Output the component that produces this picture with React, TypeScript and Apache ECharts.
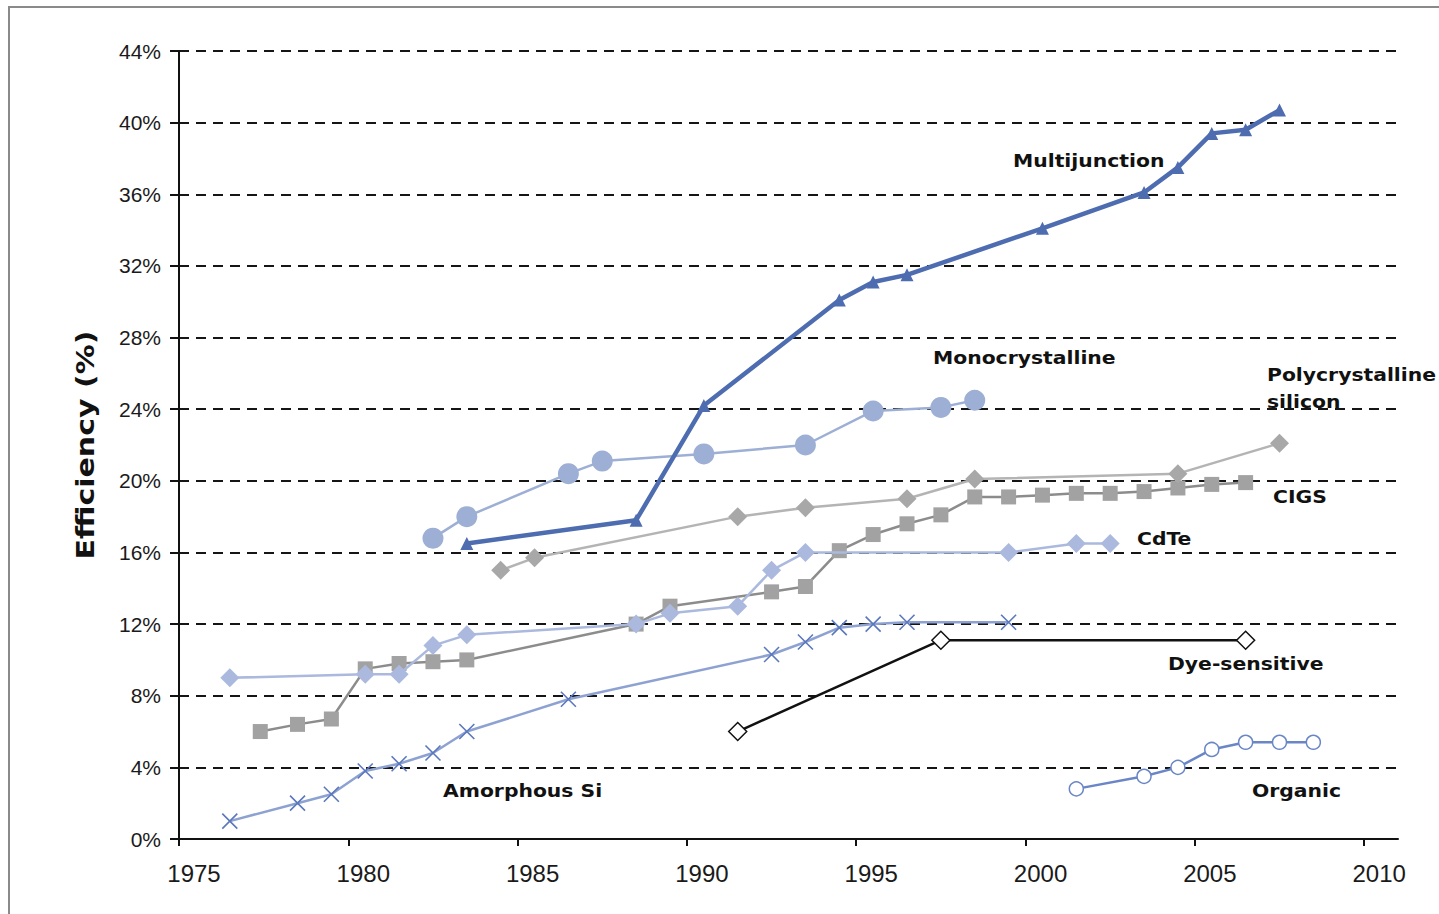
import React, { useEffect, useRef } from "react";
import * as echarts from "echarts";

const xTicks = [1975, 1980, 1985, 1990, 1995, 2000, 2005, 2010];
const yTicks = [0, 4, 8, 12, 16, 20, 24, 28, 32, 36, 40, 44];

const multiYears = [1983.5, 1988.5, 1990.5, 1994.5, 1995.5, 1996.5, 2000.5, 2003.5, 2004.5, 2005.5, 2006.5, 2007.5];
const multiVals = [16.5, 17.8, 24.2, 30.1, 31.1, 31.5, 34.1, 36.1, 37.5, 39.4, 39.6, 40.7];

const monoYears = [1982.5, 1983.5, 1986.5, 1987.5, 1990.5, 1993.5, 1995.5, 1997.5, 1998.5];
const monoVals = [16.8, 18.0, 20.4, 21.1, 21.5, 22.0, 23.9, 24.1, 24.5];

const polyYears = [1984.5, 1985.5, 1991.5, 1993.5, 1996.5, 1998.5, 2004.5, 2007.5];
const polyVals = [15.0, 15.7, 18.0, 18.5, 19.0, 20.1, 20.4, 22.1];

const cigsYears = [1977.4, 1978.5, 1979.5, 1980.5, 1981.5, 1982.5, 1983.5, 1988.5, 1989.5, 1992.5, 1993.5, 1994.5, 1995.5, 1996.5, 1997.5, 1998.5, 1999.5, 2000.5, 2001.5, 2002.5, 2003.5, 2004.5, 2005.5, 2006.5];
const cigsVals = [6.0, 6.4, 6.7, 9.5, 9.8, 9.9, 10.0, 12.0, 13.0, 13.8, 14.1, 16.1, 17.0, 17.6, 18.1, 19.1, 19.1, 19.2, 19.3, 19.3, 19.4, 19.6, 19.8, 19.9];

const cdteYears = [1976.5, 1980.5, 1981.5, 1982.5, 1983.5, 1988.5, 1989.5, 1991.5, 1992.5, 1993.5, 1999.5, 2001.5, 2002.5];
const cdteVals = [9.0, 9.2, 9.2, 10.8, 11.4, 12.0, 12.6, 13.0, 15.0, 16.0, 16.0, 16.5, 16.5];

const amorYears = [1976.5, 1978.5, 1979.5, 1980.5, 1981.5, 1982.5, 1983.5, 1986.5, 1992.5, 1993.5, 1994.5, 1995.5, 1996.5, 1999.5];
const amorVals = [1.0, 2.0, 2.5, 3.8, 4.2, 4.8, 6.0, 7.8, 10.3, 11.0, 11.8, 12.0, 12.1, 12.1];

const dyeYears = [1991.5, 1997.5, 2006.5];
const dyeVals = [6.0, 11.1, 11.1];

const orgYears = [2001.5, 2003.5, 2004.5, 2005.5, 2006.5, 2007.5, 2008.5];
const orgVals = [2.8, 3.5, 4.0, 5.0, 5.4, 5.4, 5.4];

const seriesNames = ["Multijunction", "Monocrystalline", "Polycrystalline\nsilicon", "CIGS", "CdTe", "Dye-sensitive", "Organic", "Amorphous Si"];
const axisTitle = "Efficiency (%)";

const pair = (xs: number[], ys: number[]) => xs.map((x, i) => [x, ys[i]]);

const LABEL_FONT = "'DejaVu Sans', sans-serif";
const TICK_FONT = "'Liberation Sans', Arial, sans-serif";

export default function App() {
  const ref = useRef<HTMLDivElement>(null);
  useEffect(() => {
    if (!ref.current) return;
    const chart = echarts.init(ref.current, undefined, { renderer: "svg" });
    const lbl = (text: string, x: number, y: number) => ({
      type: "text",
      x,
      y,
      scaleX: 1.13,
      style: {
        text,
        font: `bold 18px ${LABEL_FONT}`,
        fill: "#111111",
        align: "left",
        verticalAlign: "middle",
      },
      z: 100,
    });
    const xSymbol = "path://M0,0L10,10M10,0L0,10";
    chart.setOption({
      animation: false,
      backgroundColor: "#ffffff",
      grid: { left: 179, top: 51, right: 41, bottom: 75, containLabel: false },
      xAxis: {
        type: "value",
        min: 1975,
        max: 2011,
        interval: 5,
        axisLine: { lineStyle: { color: "#111", width: 2 } },
        axisTick: { show: true, length: 7, lineStyle: { color: "#111", width: 2 } },
        axisLabel: {
          color: "#1a1a1a",
          fontSize: 24,
          fontFamily: TICK_FONT,
          margin: 22,
          padding: [0, 0, 0, 30],
          showMaxLabel: false,
          formatter: (v: number) => (xTicks.includes(v) ? String(v) : ""),
        },
        splitLine: { show: false },
      },
      yAxis: {
        type: "value",
        min: 0,
        max: 44,
        interval: 4,
        axisLine: { show: true, lineStyle: { color: "#111", width: 2 } },
        axisTick: { show: true, length: 9, lineStyle: { color: "#111", width: 2 } },
        axisLabel: {
          color: "#1a1a1a",
          fontSize: 21,
          fontFamily: TICK_FONT,
          margin: 18,
          formatter: (v: number) => (yTicks.includes(v) ? v + "%" : ""),
        },
        splitLine: { show: true, lineStyle: { color: "#151515", width: 2, type: [10, 7] } },
      },
      graphic: [
        {
          type: "rect",
          shape: { x: 9, y: 7, width: 1600, height: 1200 },
          style: { fill: "none", stroke: "#8a8a8a", lineWidth: 2 },
          silent: true,
        },
        {
          type: "text",
          x: 85,
          y: 445,
          rotation: Math.PI / 2,
          scaleX: 1.2,
          style: {
            text: axisTitle,
            font: `bold 25px ${LABEL_FONT}`,
            fill: "#111111",
            align: "center",
            verticalAlign: "middle",
          },
        },
        lbl(seriesNames[0], 1013, 161),
        lbl(seriesNames[1], 933, 358),
        lbl("Polycrystalline", 1267, 375),
        lbl("silicon", 1267, 402),
        lbl(seriesNames[3], 1273, 497),
        lbl(seriesNames[4], 1137, 539),
        lbl(seriesNames[5], 1168, 664),
        lbl(seriesNames[6], 1252, 791),
        lbl(seriesNames[7], 443, 791),
      ],
      series: [
        {
          name: "CIGS",
          type: "line",
          data: pair(cigsYears, cigsVals),
          symbol: "rect",
          symbolSize: 15,
          itemStyle: { color: "#a2a2a2" },
          lineStyle: { color: "#8c8c8c", width: 2.5 },
          z: 3,
        },
        {
          name: "Polycrystalline silicon",
          type: "line",
          data: pair(polyYears, polyVals),
          symbol: "diamond",
          symbolSize: 19,
          itemStyle: { color: "#a8a8a8" },
          lineStyle: { color: "#b4b4b4", width: 2.5 },
          z: 3,
        },
        {
          name: "CdTe",
          type: "line",
          data: pair(cdteYears, cdteVals),
          symbol: "diamond",
          symbolSize: 19,
          itemStyle: { color: "#aab9dd" },
          lineStyle: { color: "#aab9dd", width: 2.5 },
          z: 4,
        },
        {
          name: "Monocrystalline",
          type: "line",
          data: pair(monoYears, monoVals),
          symbol: "circle",
          symbolSize: 21,
          itemStyle: { color: "#9dafd4" },
          lineStyle: { color: "#9dafd4", width: 2.5 },
          z: 4,
        },
        {
          name: "Multijunction",
          type: "line",
          data: pair(multiYears, multiVals),
          symbol: "triangle",
          symbolSize: 13,
          itemStyle: { color: "#4e6cb0" },
          lineStyle: { color: "#4e6cb0", width: 4.5 },
          z: 5,
        },
        {
          name: "Amorphous Si",
          type: "line",
          data: pair(amorYears, amorVals),
          symbol: xSymbol,
          symbolSize: 15,
          itemStyle: { color: "none", borderColor: "#5b78bd", borderWidth: 1.6 },
          lineStyle: { color: "#8ea2d2", width: 2.5 },
          z: 4,
        },
        {
          name: "Dye-sensitive",
          type: "line",
          data: pair(dyeYears, dyeVals),
          symbol: "diamond",
          symbolSize: 18,
          itemStyle: { color: "#ffffff", borderColor: "#111", borderWidth: 1.5 },
          lineStyle: { color: "#111", width: 2.5 },
          z: 4,
        },
        {
          name: "Organic",
          type: "line",
          data: pair(orgYears, orgVals),
          symbol: "circle",
          symbolSize: 14,
          itemStyle: { color: "#ffffff", borderColor: "#6a86c6", borderWidth: 1.5 },
          lineStyle: { color: "#6a86c6", width: 2.5 },
          z: 4,
        },
      ],
    });
    return () => chart.dispose();
  }, []);
  return (
    <div
      ref={ref}
      style={{ position: "absolute", left: 0, top: 0, width: 1439, height: 914, background: "#fff" }}
    />
  );
}
